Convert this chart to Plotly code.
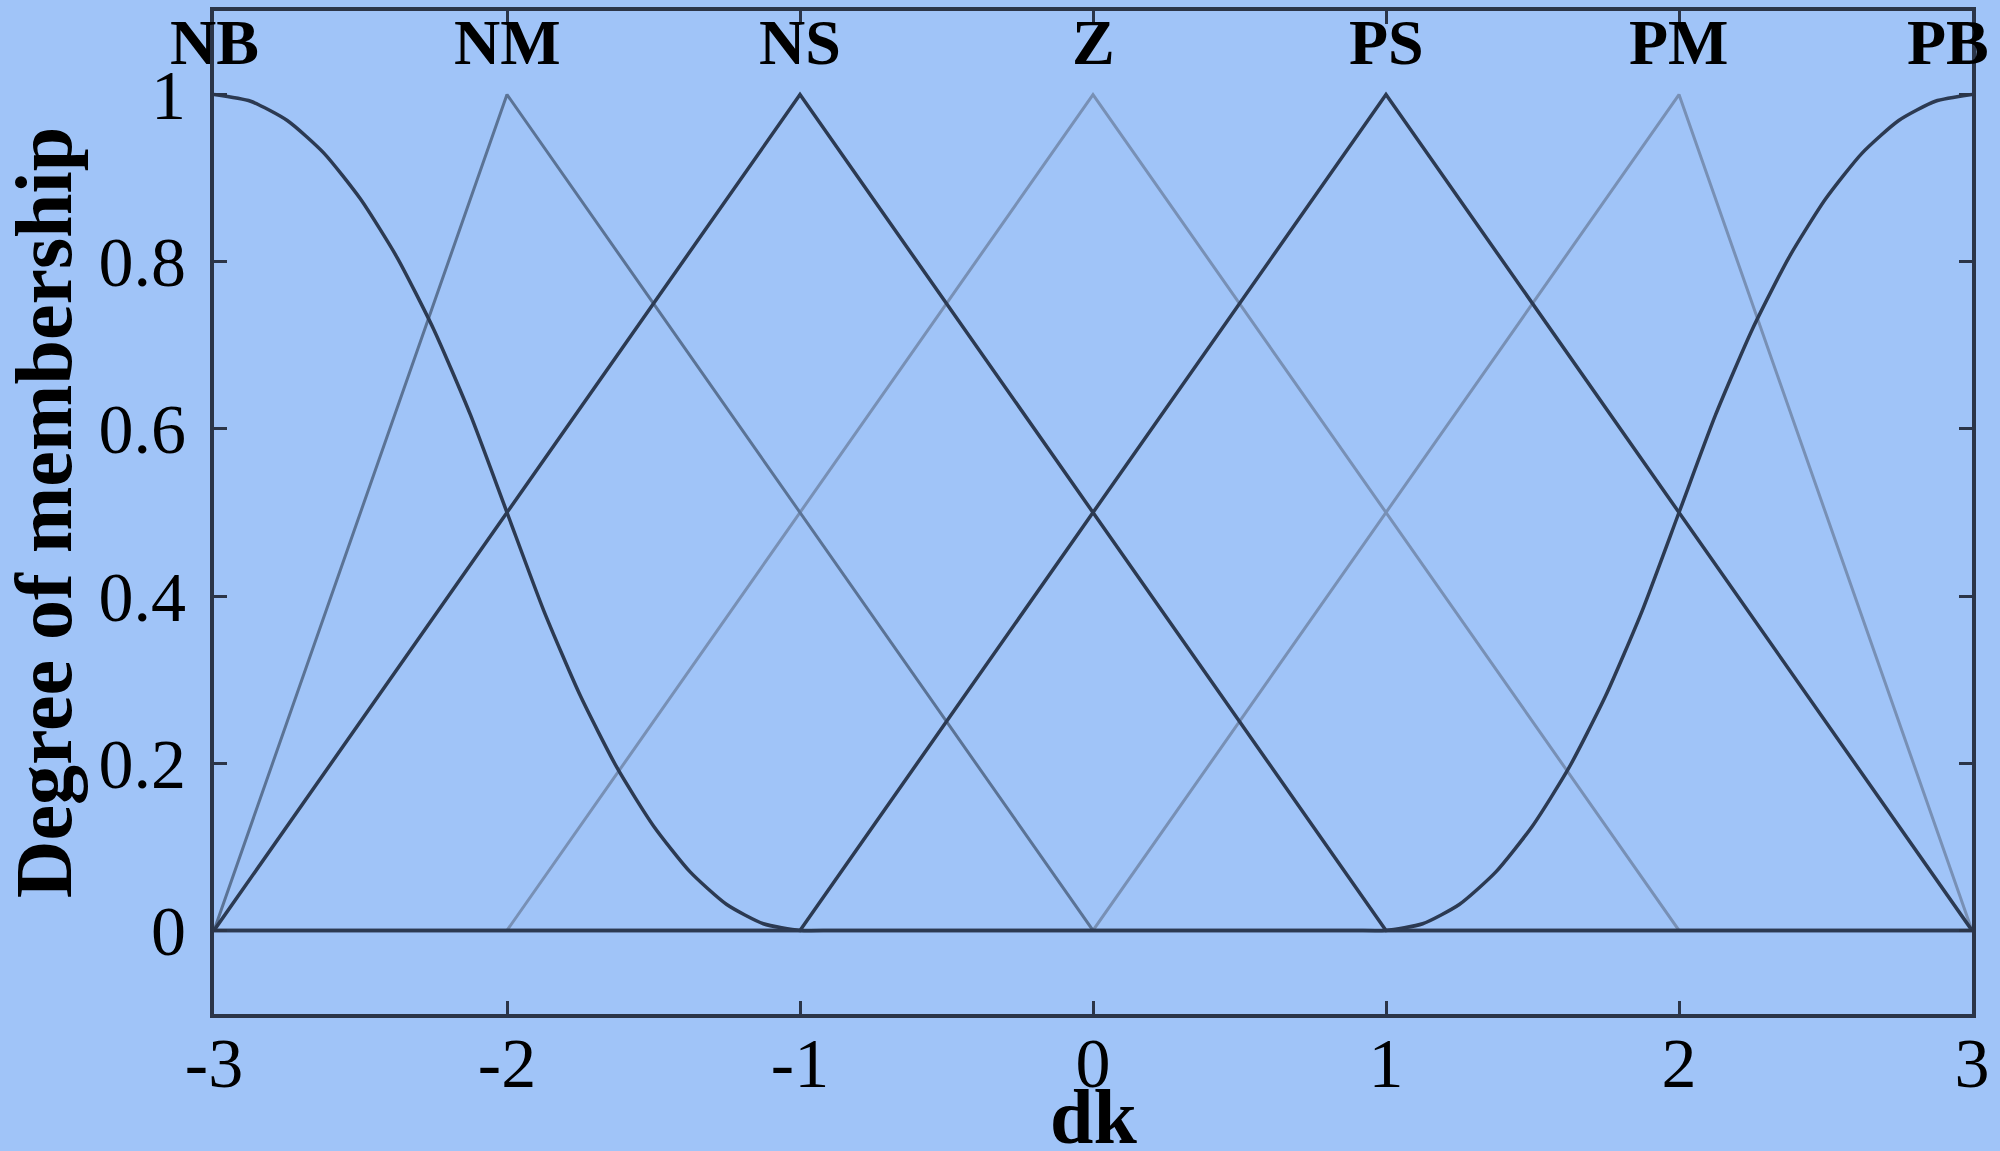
import plotly.graph_objects as go

# membership function breakpoints
x_nb = [-3, -2.875, -2.75, -2.625, -2.5, -2.375, -2.25, -2.125, -2, -1.875, -1.75, -1.625, -1.5, -1.375, -1.25, -1.125, -1, -0.875, 3]
y_nb = [1, 0.992, 0.969, 0.93, 0.875, 0.805, 0.719, 0.617, 0.5, 0.383, 0.281, 0.195, 0.125, 0.07, 0.031, 0.008, 0, 0, 0]
x_nm = [-3, -2, 0, 3]
y_nm = [0, 1, 0, 0]
x_ns = [-3, -1, 1, 3]
y_ns = [0, 1, 0, 0]
x_z = [-3, -2, 0, 2, 3]
y_z = [0, 0, 1, 0, 0]
x_ps = [-3, -1, 1, 3]
y_ps = [0, 0, 1, 0]
x_pm = [-3, 0, 2, 3]
y_pm = [0, 0, 1, 0]
x_pb = [-3, 0.875, 1, 1.125, 1.25, 1.375, 1.5, 1.625, 1.75, 1.875, 2, 2.125, 2.25, 2.375, 2.5, 2.625, 2.75, 2.875, 3]
y_pb = [0, 0, 0, 0.008, 0.031, 0.07, 0.125, 0.195, 0.281, 0.383, 0.5, 0.617, 0.719, 0.805, 0.875, 0.93, 0.969, 0.992, 1]

labels = ["NB", "NM", "NS", "Z", "PS", "PM", "PB"]
peaks = [-3, -2, -1, 0, 1, 2, 3]
x_ticks = [-3, -2, -1, 0, 1, 2, 3]
y_ticks = [0, 0.2, 0.4, 0.6, 0.8, 1]
y_ticklabels = ["0", "0.2", "0.4", "0.6", "0.8", "1"]

DARK = "#2c3a52"
MID = "#5b7395"
LIGHT = "#7890b5"
BG = "#a0c4f8"
FONT = "Liberation Serif"

series = [
    (x_pm, y_pm, LIGHT, 3, "linear"),
    (x_z, y_z, LIGHT, 3, "linear"),
    (x_nm, y_nm, MID, 3, "linear"),
    (x_nb, y_nb, DARK, 3.5, "spline"),
    (x_ns, y_ns, DARK, 3.5, "linear"),
    (x_ps, y_ps, DARK, 3.5, "linear"),
    (x_pb, y_pb, DARK, 3.5, "spline"),
]

fig = go.Figure()
for xs, ys, col, w, shape in series:
    fig.add_trace(go.Scatter(x=xs, y=ys, mode="lines",
                             line=dict(color=col, width=w, shape=shape, smoothing=0.6),
                             hoverinfo="skip"))

for lab, p in zip(labels, peaks):
    shift = -24 if p == 3 else 0
    fig.add_annotation(x=p, y=1.062, text="<b>%s</b>" % lab, showarrow=False,
                       xshift=shift, font=dict(family=FONT, size=64, color="black"))

# x-axis title as paper annotation so it sits under the tick labels
fig.add_annotation(x=0.5, xref="paper", y=1116, yref="paper", yanchor="middle",
                   text="<b>dk</b>", showarrow=False,
                   font=dict(family=FONT, size=78, color="black"))
fig.layout.annotations[-1].y = -(1116 - 1014) / (1014 - 11)

axis_common = dict(showline=True, mirror="ticks", linecolor="#2b3548", linewidth=4,
                   ticks="inside", ticklen=13, tickwidth=3, tickcolor="#2b3548",
                   showgrid=False, zeroline=False,
                   tickfont=dict(family=FONT, size=70, color="black"))

fig.update_xaxes(range=[-3, 3], tickvals=x_ticks, ticktext=[str(v) for v in x_ticks],
                 ticklabelstandoff=-15, **axis_common)
fig.update_yaxes(range=[-0.1, 1.1], tickvals=y_ticks, ticktext=y_ticklabels,
                 ticklabelstandoff=10,
                 title=dict(text="<b>Degree of membership</b>",
                            font=dict(family=FONT, size=80, color="black"), standoff=30),
                 **axis_common)

fig.update_layout(width=2000, height=1151, showlegend=False,
                  paper_bgcolor=BG, plot_bgcolor=BG,
                  margin=dict(l=214, r=28, t=11, b=137, autoexpand=False))

fig.write_html("out.html", config={"displayModeBar": False},
               post_script="document.body.style.margin='0';")
